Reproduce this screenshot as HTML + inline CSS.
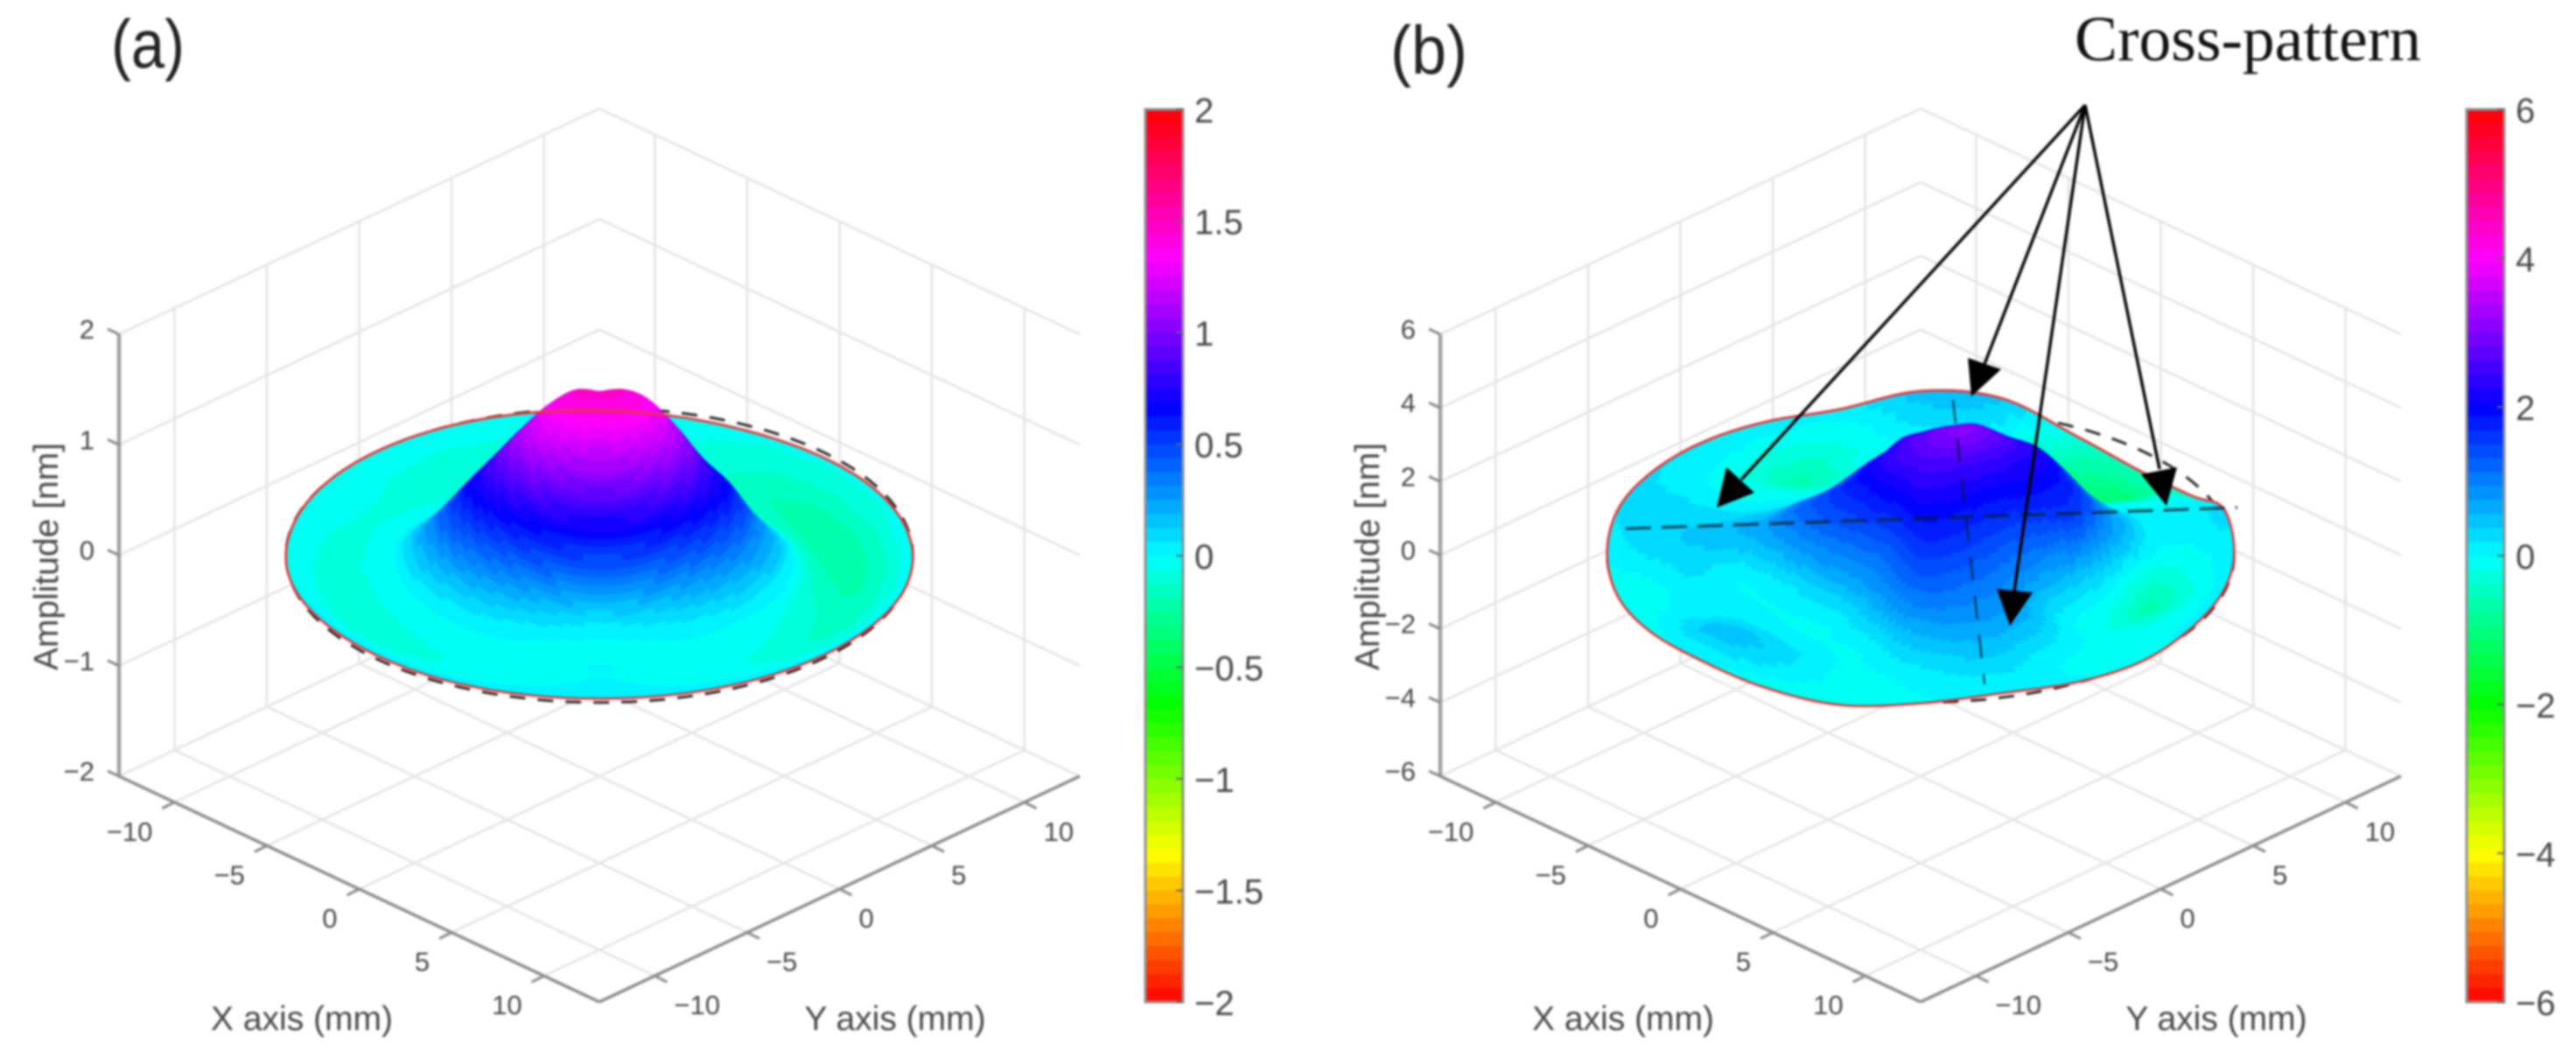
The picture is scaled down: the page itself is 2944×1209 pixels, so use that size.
<!DOCTYPE html>
<html lang="en">
<head>
<meta charset="utf-8">
<title>Surface amplitude plots</title>
<style>
html,body{margin:0;padding:0;background:#fff;width:2944px;height:1209px;overflow:hidden}
svg{display:block;filter:blur(1.4px)}
text{font-family:"Liberation Sans",sans-serif;fill:#484848}
</style>
</head>
<body>
<svg id="figure" xmlns="http://www.w3.org/2000/svg" width="2944" height="1209" viewBox="0 0 2944 1209">
<rect width="2944" height="1209" fill="#fff"/>
<g id="panel-a"></g>
<g id="panel-b"></g>
<text x="127" y="77" font-size="78" textLength="84" lengthAdjust="spacingAndGlyphs" style="fill:#222">(a)</text>
<text x="1589" y="84" font-size="78" textLength="88" lengthAdjust="spacingAndGlyphs" style="fill:#222">(b)</text>
<text x="2371" y="69" font-size="73.5" style="font-family:'Liberation Serif',serif;fill:#111">Cross-pattern</text>
<g fill="none">
<line x1="1858" y1="604" x2="2557" y2="580" stroke="#00202e" stroke-opacity=".72" stroke-width="3.5" stroke-dasharray="29 12"/>
<line x1="2232" y1="457" x2="2268" y2="782" stroke="#00202e" stroke-opacity=".75" stroke-width="2.4" stroke-dasharray="27 18"/>
</g>
<g fill="#000" stroke="none">
<line x1="2383" y1="120" x2="1990" y2="548" stroke="#000" stroke-width="3.4"/>
<polygon points="1962,580 1973,534 2005,563"/>
<line x1="2383" y1="120" x2="2268" y2="416" stroke="#000" stroke-width="3.4"/>
<polygon points="2253,453 2249,409 2287,422"/>
<line x1="2383" y1="120" x2="2302" y2="675" stroke="#000" stroke-width="3.4"/>
<polygon points="2297,715 2282,673 2323,677"/>
<line x1="2383" y1="120" x2="2468" y2="536" stroke="#000" stroke-width="3.4"/>
<polygon points="2476,578 2447,542 2488,534"/>
</g>
</svg>
<script>
// ----- chart data -----
const radiusMm = [0,1,2,3,4,5,6,7,8,9,10,11,12];
const xyTicks = [-10,-5,0,5,10];
const zTicksA = [-2,-1,0,1,2];
const zTicksB = [-6,-4,-2,0,2,4,6];
const colorbarTicksA = [2,1.5,1,0.5,0,-0.5,-1,-1.5,-2];
const colorbarTicksB = [6,4,2,0,-2,-4,-6];
// rows run over azimuth (evenly spaced, 0 = screen right, 90 = towards viewer); columns over radiusMm
const surfaceAz = [
 [1.44,1.43,1.33,1.12,.83,.62,.32,.10,-.12,-.20,-.20,-.12,-.02],
 [1.44,1.42,1.30,1.10,.80,.55,.30,.10,-.04,-.10,-.14,-.09,.02],
 [1.44,1.40,1.26,1.03,.74,.46,.18,.04,-.01,-.03,-.05,-.02,.03],
 [1.44,1.38,1.23,1.00,.72,.42,.10,-.01,-.02,.00,.00,.01,.035],
 [1.44,1.40,1.26,1.03,.74,.47,.20,.05,-.01,-.03,-.05,-.02,.03],
 [1.44,1.42,1.30,1.10,.80,.56,.32,.11,-.02,-.06,-.10,-.06,.03],
 [1.44,1.43,1.32,1.12,.88,.65,.40,.17,-.02,-.06,-.08,-.06,-.01],
 [1.44,1.44,1.28,1.02,.72,.42,.15,.00,-.05,-.07,-.06,-.04,.00],
 [1.44,1.40,1.20,.92,.60,.30,.05,-.05,-.10,-.12,-.10,-.05,.00],
 [1.44,1.37,1.20,.90,.55,.22,.00,-.03,-.06,-.06,-.04,-.02,-.02],
 [1.44,1.40,1.22,.95,.60,.28,.02,-.07,-.11,-.12,-.10,-.07,-.05],
 [1.44,1.44,1.32,1.05,.72,.42,.12,-.07,-.16,-.22,-.20,-.11,-.04]
];
const surfaceBz = [
 [2.60,2.55,2.40,2.20,2.05,1.90,1.60,.95,.45,-.05,-.10,.00,.10],
 [2.60,2.50,2.30,2.00,1.85,1.70,1.45,.70,-.10,-.60,-.40,-.10,.07],
 [2.60,2.45,2.15,1.85,1.55,1.25,.85,.35,-.05,-.30,-.20,-.05,.04],
 [2.60,2.40,2.10,1.80,1.50,1.15,.80,.35,.05,-.05,-.05,-.05,-.05],
 [2.60,2.40,2.10,1.80,1.55,1.25,1.00,.75,.60,.30,.05,.00,.02],
 [2.60,2.35,2.05,1.85,1.65,1.40,1.15,.95,.75,.55,.35,.15,.12],
 [2.60,2.35,2.05,1.85,1.65,1.45,1.20,.95,.65,.35,.12,.02,-.02],
 [2.55,2.30,1.90,1.55,1.25,1.00,.70,.35,.05,.00,-.05,-.10,-.20],
 [2.50,2.20,1.75,1.35,1.00,.70,.20,.00,.00,.10,.25,.20,-.12],
 [2.50,2.20,1.80,1.40,1.00,.65,.20,.00,.05,.20,.40,.45,.00],
 [2.50,2.20,1.80,1.45,1.10,.70,.15,.00,.05,.10,.10,.10,-.05],
 [2.55,2.25,1.85,1.55,1.25,.85,.40,.05,.10,.20,.05,-.15,-.08],
 [2.55,2.30,1.90,1.65,1.35,1.05,.70,.55,.45,.38,.30,.20,.05],
 [2.55,2.40,2.05,1.70,1.30,.95,.55,.40,.30,.30,.30,.30,.20],
 [2.60,2.45,2.20,1.60,1.10,.65,.30,.10,.05,.05,.10,.15,.20],
 [2.60,2.50,2.25,1.75,1.15,.55,.10,-.05,-.15,-.20,-.15,.05,.20],
 [2.60,2.55,2.35,1.85,1.20,.55,.05,-.20,-.45,-.60,-.40,-.10,.15],
 [2.60,2.65,2.55,2.15,1.35,.55,.05,-.05,-.10,-.15,-.15,-.05,.10],
 [2.60,2.70,2.60,2.30,1.50,.60,.15,.10,.10,.10,.20,.35,.46],
 [2.60,2.80,2.75,2.45,1.70,.80,.20,.00,.10,.20,.20,.30,.40],
 [2.60,2.90,2.90,2.60,1.90,1.00,.30,-.10,-.35,-.50,-.60,-.55,-.24],
 [2.60,2.95,3.00,2.85,2.30,1.60,.70,.00,-.40,-.70,-.95,-1.00,-.57],
 [2.60,2.90,3.05,2.85,2.50,2.15,1.45,.60,.00,-.10,-.20,-.20,-.39],
 [2.60,2.80,2.80,2.50,2.25,2.10,1.50,.85,.40,.10,.10,.15,.24]
];
const dashedRingAz = [0,0,0,0,0,0,0,0,0,0,0,0];
const dashedRingBz = [0,0,0,0,0,0,0,0,0,0,0,0];

// ----- helpers -----
const NS = 'http://www.w3.org/2000/svg';
const AXIS_LIMIT = 13, DISK_RADIUS = radiusMm[radiusMm.length-1], COLOR_LEVELS = 64;
const PX_X = 21.115, PX_Y = 9.92;

function svgEl(tag, parent, name){
  const el = document.createElementNS(NS, tag);
  
  
  parent.appendChild(el);
  return el;
}
function minus(v){ return String(v).replace('-', '\u2212'); }
function catmull(p0,p1,p2,p3,t){
  return .5*(2*p1+(p2-p0)*t+(2*p0-5*p1+4*p2-p3)*t*t+(3*p1-p0-3*p2+p3)*t*t*t);
}
function radial(rows, i, r){
  const n = rows.length, row = rows[((i%n)+n)%n], opp = rows[(((i+n/2)%n)+n)%n], last = row.length-1;
  const j = Math.min(Math.floor(r), last-1), t = r-j;
  const at = k => k<0 ? opp[-k] : row[Math.min(k,last)];
  return catmull(at(j-1),at(j),at(j+1),at(j+2),t);
}
function surfaceZ(rows, deg, r){
  const step = 360/rows.length, f = deg/step, i = Math.floor(f), t = f-i;
  return catmull(radial(rows,i-1,r),radial(rows,i,r),radial(rows,i+1,r),radial(rows,i+2,r),t);
}
function ringZ(vals, deg){
  const n = vals.length, step = 360/n, f = deg/step, i = Math.floor(f), t = f-i;
  const at = k => vals[((k%n)+n)%n];
  return catmull(at(i-1),at(i),at(i+1),at(i+2),t);
}
function bandColor(z, zMax){
  let t = (z+zMax)/(2*zMax);
  t = Math.max(0, Math.min(.9999, t));
  const idx = Math.floor(t*COLOR_LEVELS);
  return 'hsl('+(360*(idx+.5)/COLOR_LEVELS).toFixed(1)+',100%,50%)';
}

function drawPanel(host, surface, dashedRing, zTicks, colorbarTicks, dx){
  const zMax = zTicks[zTicks.length-1];
  const centerX = 685+dx, floorY = 887, topY = 382;
  const zPx = (floorY-topY)/(2*zMax);
  const sx = (X,Y) => centerX+(X+Y)*PX_X;
  const sy = (X,Y,z) => floorY+(X-Y)*PX_Y-(z+zMax)*zPx;
  const polar = (deg,r) => {
    const a = deg*Math.PI/180, u = r*Math.cos(a), v = r*Math.sin(a);
    return {X:(u+v)/Math.SQRT2, Y:(u-v)/Math.SQRT2, v:v};
  };

  // grid
  const grid = svgEl('g', host, 'grid');
  grid.setAttribute('stroke', '#e6e6e6');
  grid.setAttribute('stroke-width', '2.8');
  grid.setAttribute('fill', 'none');
  const L = AXIS_LIMIT;
  function gridLine(x1,y1,x2,y2,name){
    const l = svgEl('line', grid, name);
    l.setAttribute('x1', x1); l.setAttribute('y1', y1);
    l.setAttribute('x2', x2); l.setAttribute('y2', y2);
  }
  xyTicks.forEach(t => {
    gridLine(sx(t,-L),sy(t,-L,-zMax),sx(t,L),sy(t,L,-zMax),'floor-grid-x');
    gridLine(sx(-L,t),sy(-L,t,-zMax),sx(L,t),sy(L,t,-zMax),'floor-grid-y');
    gridLine(sx(-L,t),sy(-L,t,-zMax),sx(-L,t),sy(-L,t,zMax),'wall-grid-x');
    gridLine(sx(t,L),sy(t,L,-zMax),sx(t,L),sy(t,L,zMax),'wall-grid-y');
  });
  zTicks.forEach(z => {
    gridLine(sx(-L,-L),sy(-L,-L,z),sx(-L,L),sy(-L,L,z),'wall-grid-z-left');
    gridLine(sx(-L,L),sy(-L,L,z),sx(L,L),sy(L,L,z),'wall-grid-z-right');
  });

  // axes
  const axes = svgEl('g', host, 'axes');
  axes.setAttribute('fill', 'none');
  function axisLine(x1,y1,x2,y2,name,w,c){
    const l = svgEl('line', axes, name);
    l.setAttribute('x1', x1); l.setAttribute('y1', y1);
    l.setAttribute('x2', x2); l.setAttribute('y2', y2);
    l.setAttribute('stroke', c);
    l.setAttribute('stroke-width', w);
  }
  axisLine(sx(-L,-L),sy(-L,-L,-zMax),sx(-L,-L),sy(-L,-L,zMax),'z-axis-line',4.5,'#a0a0a0');
  axisLine(sx(-L,-L),sy(-L,-L,-zMax),sx(L,-L),sy(L,-L,-zMax),'x-axis-line',3.4,'#8a8a8a');
  axisLine(sx(L,-L),sy(L,-L,-zMax),sx(L,L),sy(L,L,-zMax),'y-axis-line',3.4,'#8a8a8a');
  function label(x,y,str,size,anchor,name){
    const t = svgEl('text', host, name);
    t.setAttribute('x', x); t.setAttribute('y', y);
    t.setAttribute('font-size', size);
    t.setAttribute('text-anchor', anchor);
    t.textContent = str;
    return t;
  }
  xyTicks.forEach(t => {
    const ax = sx(t,-L), ay = sy(t,-L,-zMax);
    axisLine(ax,ay,ax-14,ay+7,'x-tick',3,'#8a8a8a');
    label(ax-25,ay+44,minus(t),31,'end','x-tick-label');
    const bx = sx(L,t), by = sy(L,t,-zMax);
    axisLine(bx,by,bx+14,by+7,'y-tick',3,'#8a8a8a');
    label(bx+22,by+44,minus(t),31,'start','y-tick-label');
  });
  zTicks.forEach(z => {
    const ax = sx(-L,-L), ay = sy(-L,-L,z);
    axisLine(ax,ay,ax-13,ay-6,'z-tick',3,'#8a8a8a');
    label(ax-28,ay+5,minus(z),31,'end','z-tick-label');
  });
  label(345+dx,1177,'X axis (mm)',39,'middle','x-axis-title');
  label(1023+dx,1177,'Y axis (mm)',39,'middle','y-axis-title');
  const zTitle = label(0,0,'Amplitude [nm]',39,'middle','z-axis-title');
  zTitle.setAttribute('transform','translate('+(66+dx)+',636) rotate(-90)');

  // dashed reference ring, behind the surface
  const ringPts = [];
  for(let d=0; d<360; d+=2){
    const p = polar(d, DISK_RADIUS);
    ringPts.push(sx(p.X,p.Y).toFixed(1)+','+sy(p.X,p.Y,ringZ(dashedRing,d)).toFixed(1));
  }
  const ring = svgEl('polygon', host, 'dashed-reference-ring');
  ring.setAttribute('points', ringPts.join(' '));
  ring.setAttribute('fill', 'none');
  ring.setAttribute('stroke', '#2a2a2a');
  ring.setAttribute('stroke-width', '3');
  ring.setAttribute('stroke-dasharray', '18 14');

  // surface
  const aN = 144, rN = 72, verts = [];
  for(let i=0; i<=aN; i++){
    const row = [];
    const deg = 360*i/aN;
    for(let j=0; j<=rN; j++){
      const r = DISK_RADIUS*j/rN, p = polar(deg,r), z = surfaceZ(surface,deg%360,r);
      row.push({x:sx(p.X,p.Y), y:sy(p.X,p.Y,z), z:z, v:p.v});
    }
    verts.push(row);
  }
  const Kz = zPx/(29.86*.883)*.47, cells = [];
  for(let i=0; i<aN; i++){
    for(let j=0; j<rN; j++){
      const q = [verts[i][j],verts[i+1][j],verts[i+1][j+1],verts[i][j+1]];
      const zm = (q[0].z+q[1].z+q[2].z+q[3].z)/4, vm = (q[0].v+q[1].v+q[2].v+q[3].v)/4;
      cells.push({q:q, z:zm, key:vm*.883+zm*Kz});
    }
  }
  cells.sort((a,b) => a.key-b.key);
  const surf = svgEl('g', host, 'surface');
  cells.forEach(c => {
    const poly = document.createElementNS(NS,'polygon');
    
    
    poly.setAttribute('points', c.q.map(p => p.x.toFixed(1)+','+p.y.toFixed(1)).join(' '));
    const col = bandColor(c.z, zMax);
    poly.setAttribute('fill', col);
    poly.setAttribute('stroke', col);
    poly.setAttribute('stroke-width', '1');
    surf.appendChild(poly);
  });

  // red outline of surface
  const edgePts = [];
  for(let d=0; d<360; d+=2){
    const p = polar(d, DISK_RADIUS);
    edgePts.push(sx(p.X,p.Y).toFixed(1)+','+sy(p.X,p.Y,surfaceZ(surface,d,DISK_RADIUS)).toFixed(1));
  }
  const edge = svgEl('polygon', host, 'surface-outline');
  edge.setAttribute('points', edgePts.join(' '));
  edge.setAttribute('fill', 'none');
  edge.setAttribute('stroke', '#e8383c');
  edge.setAttribute('stroke-width', '2.8');

  // colorbar
  const cbX = 1309+dx, cbW = 43, cbTop = 125, cbBottom = 1145;
  const cbScale = v => cbTop+(zMax-v)/(2*zMax)*(cbBottom-cbTop);
  const bar = svgEl('g', host, 'colorbar');
  for(let k=0; k<COLOR_LEVELS; k++){
    const hi = zMax-2*zMax*k/COLOR_LEVELS, lo = zMax-2*zMax*(k+1)/COLOR_LEVELS;
    const seg = svgEl('rect', bar, 'colorbar-level');
    seg.setAttribute('x', cbX);
    seg.setAttribute('y', cbScale(hi));
    seg.setAttribute('width', cbW);
    seg.setAttribute('height', cbScale(lo)-cbScale(hi)+.6);
    seg.setAttribute('fill', bandColor((hi+lo)/2, zMax));
  }
  const frame = svgEl('rect', bar, 'colorbar-frame');
  frame.setAttribute('x', cbX);
  frame.setAttribute('y', cbTop);
  frame.setAttribute('width', cbW);
  frame.setAttribute('height', cbBottom-cbTop);
  frame.setAttribute('fill', 'none');
  frame.setAttribute('stroke', '#8f8f8f');
  frame.setAttribute('stroke-width', '3');
  colorbarTicks.forEach(v => {
    const y = cbScale(v);
    const tick = svgEl('line', bar, 'colorbar-tick');
    tick.setAttribute('x1', cbX+cbW-8); tick.setAttribute('x2', cbX+cbW);
    tick.setAttribute('y1', y); tick.setAttribute('y2', y);
    tick.setAttribute('stroke', '#666');
    tick.setAttribute('stroke-width', '2');
    label(cbX+cbW+13,y+15,minus(v),40,'start','colorbar-tick-label');
  });
}

drawPanel(document.getElementById('panel-a'), surfaceAz, dashedRingAz, zTicksA, colorbarTicksA, 0);
drawPanel(document.getElementById('panel-b'), surfaceBz, dashedRingBz, zTicksB, colorbarTicksB, 1510);
</script>
</body>
</html>
